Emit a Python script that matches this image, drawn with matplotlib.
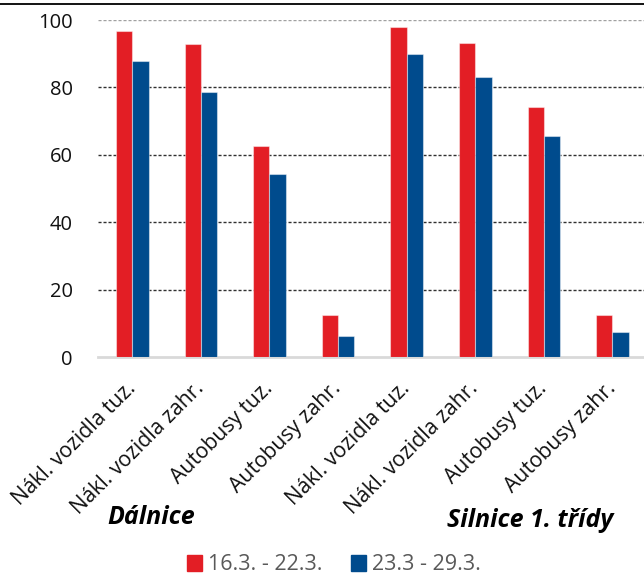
import matplotlib
matplotlib.use("Agg")
import matplotlib.pyplot as plt
from matplotlib.patches import Patch
from matplotlib.lines import Line2D
import numpy as np

categories = ["Nákl. vozidla tuz.", "Nákl. vozidla zahr.", "Autobusy tuz.", "Autobusy zahr.",
              "Nákl. vozidla tuz.", "Nákl. vozidla zahr.", "Autobusy tuz.", "Autobusy zahr."]
series_names = ["16.3. - 22.3.", "23.3 - 29.3."]
week1 = [96.7, 92.8, 62.5, 12.6, 97.8, 93.3, 74.1, 12.4]
week2 = [87.9, 78.8, 54.2, 6.4, 89.8, 83.1, 65.5, 7.4]
group_labels = ["Dálnice", "Silnice 1. třídy"]
yticks = [0, 20, 40, 60, 80, 100]

RED = "#e31e25"
BLUE = "#004b8d"

plt.rcParams["font.family"] = ["Open Sans", "DejaVu Sans"]

fig = plt.figure(figsize=(6.44, 5.79), dpi=100)
ax = fig.add_axes([98/644, 1 - 357.3/579, 546/644, (357.3-20)/579])

x = np.arange(len(categories))
w = 0.238
ax.bar(x - w/2, week1, w, color=RED, edgecolor=(1, 1, 1, 0.45), linewidth=0.8, zorder=3)
ax.bar(x + w/2, week2, w, color=BLUE, edgecolor=(1, 1, 1, 0.45), linewidth=0.8, zorder=3)

ax.set_xlim(-0.5, 7.46)
ax.set_ylim(0, 100)
ax.set_yticks(yticks)
ax.set_yticklabels([str(v) for v in yticks], fontsize=14.5, color="#111111")
ax.tick_params(axis="y", length=0, pad=18)
ax.tick_params(axis="x", length=0, pad=20)

for v in yticks[1:]:
    col = "#a0a0a0" if v == 100 else "#303030"
    ax.axhline(v, color=col, linestyle=(0, (2.2, 1.4)), linewidth=1.0, zorder=1)

for s in ["top", "right", "left"]:
    ax.spines[s].set_visible(False)
ax.spines["bottom"].set_color("#d9d9d9")
ax.spines["bottom"].set_linewidth(2)

ax.set_xticks(x)
ax.set_xticklabels(categories, rotation=45, ha="right", va="center",
                   rotation_mode="anchor", fontsize=15.2, color="#111111")

fig.text(151/644, 1 - 524/579, group_labels[0], ha="center", va="baseline",
         fontsize=18, fontweight="bold", fontstyle="italic", color="#000000")
fig.text(530/644, 1 - 527/579, group_labels[1], ha="center", va="baseline",
         fontsize=18, fontweight="bold", fontstyle="italic", color="#000000")

fig.add_artist(Line2D([0, 1], [1 - 4/579, 1 - 4/579], color="black", linewidth=1.3))

handles = [Patch(color=RED), Patch(color=BLUE)]
fig.legend(handles, series_names, loc="center", bbox_to_anchor=(334/644, 1 - 565/579),
           ncol=2, frameon=False, fontsize=15.5, handlelength=0.7, handleheight=0.7,
           handletextpad=0.3, columnspacing=1.3, labelcolor="#595959")

fig.savefig("out.png", dpi=100)
